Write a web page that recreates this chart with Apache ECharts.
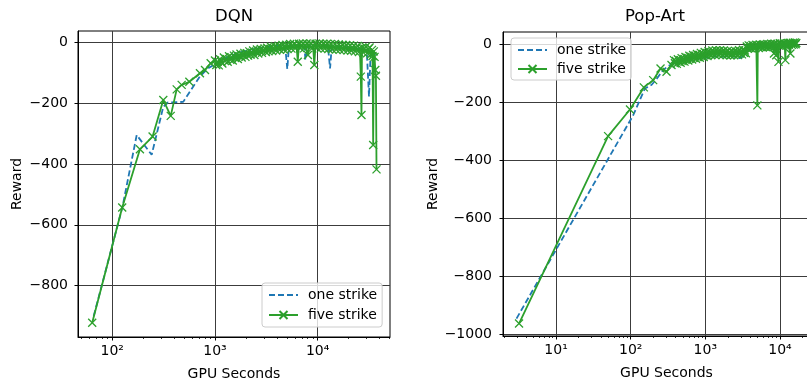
<!DOCTYPE html>
<html><head><meta charset="utf-8">
<script src="https://cdn.jsdelivr.net/npm/echarts@6/dist/echarts.min.js"></script>
<style>html,body{margin:0;padding:0;background:#fff}#c{width:807px;height:380px}</style>
</head><body><div id="c"></div>
<script>
// ---------------- DATA ----------------
const seriesNames = ['one strike', 'five strike'];
const titles = ['DQN', 'Pop-Art'];

// DQN, one strike (blue dashed) : [GPU seconds, reward]
const dqnOne = [[66,-900],[126,-540],[173,-305],[242,-370],[314,-212],[348,-198],[491,-196],[714,-112],[860,-85],
  [1000,-72],[1090,-64],[1190,-57],[1300,-50],[1420,-46],[1550,-40],[1690,-36],[1850,-31],[2020,-28],[2200,-24],
  [2400,-22],[2620,-19],[2860,-17],[3120,-15],[3400,-14],[3710,-13],[4050,-12],[4420,-11],[4820,-11],[5060,-88],
  [5260,-10],[5740,-10],[6260,-9],[6830,-9],[7450,-9],[7580,-58],[8130,-9],[8870,-9],[9680,-10],[10560,-10],
  [11520,-11],[12570,-11],[13200,-86],[13720,-12],[14970,-13],[16330,-14],[17820,-15],[19440,-16],[21210,-18],
  [23140,-20],[25250,-22],[27550,-24],[30060,-27],[31600,-179],[32800,-30],[34500,-33],[35800,-36],[36800,-40]];

// DQN, five strike (green, x markers)
const dqnFive = [[63.8,-922],[125,-543],[186,-352],[247,-310],[314,-190],[371,-242],[424,-155],[474,-140],
  [563,-130],[714,-102],[800,-91],[908,-69],
  [1000,-60],[1030,-75],[1060,-64],[1090,-76],[1120,-56],[1150,-64],[1180,-70],[1220,-50],[1250,-62],[1290,-55],
  [1330,-64],[1370,-46],[1410,-58],[1450,-49],[1490,-60],[1530,-44],[1580,-52],[1620,-40],[1670,-55],[1720,-46],
  [1770,-38],[1820,-50],[1870,-42],[1930,-35],[1980,-48],[2040,-36],[2100,-44],[2160,-30],[2220,-41],[2290,-34],
  [2350,-27],[2420,-42],[2490,-31],[2560,-24],[2640,-37],[2710,-28],[2790,-22],[2870,-35],[2960,-26],[3040,-20],
  [3130,-32],[3220,-18],[3320,-30],[3410,-22],[3510,-15],[3610,-29],[3720,-19],[3830,-13],[3940,-27],[4050,-17],
  [4170,-11],[4290,-25],[4410,-15],[4540,-9],[4670,-24],[4810,-13],[4950,-8],[5090,-22],[5240,-12],[5390,-6],
  [5550,-21],[5710,-11],[5870,-5],[6040,-20],[6220,-10],[6400,-64],[6580,-5],[6770,-19],[6970,-9],[7170,-4],
  [7380,-20],[7590,-10],[7810,-4],[8040,-42],[8270,-9],[8510,-4],[8760,-21],[9010,-9],[9270,-75],[9540,-5],
  [9820,-19],[10100,-9],[10400,-4],[10700,-20],[11000,-10],[11300,-5],[11700,-21],[12000,-10],[12300,-5],
  [12700,-22],[13100,-11],[13400,-6],[13800,-23],[14200,-12],[14700,-6],[15100,-24],[15500,-13],[16000,-7],
  [16400,-25],[16900,-14],[17400,-8],[17900,-26],[18400,-15],[18900,-9],[19500,-27],[20000,-16],[20600,-10],
  [21200,-28],[21800,-17],[22500,-11],[23100,-30],[23800,-18],[24500,-12],[25200,-32],[25750,-20],[26300,-113],
  [26700,-239],[27000,-18],[27800,-34],[28600,-21],[29400,-15],[30300,-36],[31100,-22],[32000,-17],[32900,-40],
  [33800,-25],[34200,-45],[34700,-338],[35200,-30],[35800,-48],[36400,-91],[36900,-110],[37400,-418]];

// Pop-Art, one strike (blue dashed)
const popOne = [[2.95,-946],[108,-245],[155,-153],[191,-140],[230,-115],[270,-90],[320,-75],[380,-66],[450,-58],
  [530,-54],[620,-52],[730,-50],[850,-49],[1000,-47],[1200,-45],[1400,-42],[1650,-44],[1900,-42],[2200,-40],
  [2600,-45],[2900,-48],[3300,-40],[3600,-25],[3900,-12],[4300,-10],[5000,-8],[6000,-6],[7000,-5],[8500,-4],
  [10000,-3],[12000,-2],[14000,-1],[16500,0]];

// Pop-Art, five strike (green, x markers)
const popFive = [[3.19,-963],[49.8,-317],[97.8,-225],[150,-149],[200,-124],[251,-84],[302,-95],[352,-72],
  [380,-55],[391,-66],[403,-58],[415,-68],[428,-52],[440,-61],[454,-55],[467,-64],[481,-48],[496,-58],[511,-51],
  [526,-60],[542,-44],[558,-54],[575,-47],[592,-56],[610,-40],[628,-50],[647,-43],[666,-53],[686,-37],[707,-47],
  [728,-40],[750,-50],[772,-34],[796,-44],[820,-37],[844,-47],[870,-30],[896,-41],[922,-34],[950,-44],[979,-27],
  [1010,-38],[1040,-30],[1070,-41],[1100,-24],[1130,-35],[1170,-28],[1200,-38],[1240,-22],[1280,-33],[1310,-26],
  [1350,-37],[1390,-21],[1440,-32],[1480,-25],[1520,-36],[1570,-21],[1620,-31],[1660,-26],[1710,-37],[1770,-22],
  [1820,-33],[1870,-27],[1930,-38],[1990,-23],[2050,-34],[2110,-28],[2170,-39],[2240,-24],[2300,-35],[2370,-27],
  [2440,-38],[2520,-23],[2590,-33],[2670,-26],[2750,-37],[2830,-21],[2920,-32],[3010,-25],[3100,-35],[3190,-19],
  [3290,-30],[3380,-22],[3490,-31],[3590,-8],[3700,-16],[3810,-4],[3920,-13],[4040,-6],[4160,-15],[4290,-3],
  [4410,-12],[4550,-5],[4680,-14],[4820,-2],[4980,-211],[5050,-4],[5200,-13],[5360,-1],[5520,-10],[5690,-3],
  [5860,-12],[6030,0],[6210,-9],[6400,-2],[6590,-11],[6790,1],[6990,-8],[7200,-1],[7420,-10],[7640,2],[7870,-7],
  [8100,0],[8300,-32],[8470,2],[8720,-6],[8920,-38],[9190,1],[9550,-61],[9750,-5],[10000,3],[10300,-4],[10600,2],
  [10900,-5],[11300,4],[11600,-3],[11800,-55],[12000,2],[12400,-4],[12800,4],[13100,-2],[13500,5],[13800,-32],
  [14000,3],[14400,-2],[14900,5],[15300,-1],[15800,6],[16200,0],[16560,4]];

// Axis ticks and labels
const dqnXTicks = [100, 1000, 10000];
const dqnXMinor = [50, 60, 70, 80, 90, 200, 300, 400, 500, 600, 700, 800, 900,
  2000, 3000, 4000, 5000, 6000, 7000, 8000, 9000, 20000, 30000, 40000, 50000];
const dqnYTicks = [-800, -600, -400, -200, 0];
const popXTicks = [10, 100, 1000, 10000];
const popXMinor = [2, 3, 4, 5, 6, 7, 8, 9, 20, 30, 40, 50, 60, 70, 80, 90, 200, 300, 400, 500, 600, 700, 800, 900,
  2000, 3000, 4000, 5000, 6000, 7000, 8000, 9000, 20000, 30000, 40000];
const popYTicks = [-1000, -800, -600, -400, -200, 0];
const xAxisTitle = 'GPU Seconds';
const yAxisTitle = 'Reward';

// ---------------- CHART ----------------
const FONT = 'DejaVu Sans';
const FS = 14;
const BLUE = '#1f77b4', GREEN = '#2ca02c';
const X_SYMBOL = 'path://M0,0L10,10M10,0L0,10';
const SUP = {1: '\u00b9', 2: '\u00b2', 3: '\u00b3', 4: '\u2074'};
const xLabel = v => '10' + SUP[Math.round(Math.log10(v))];
const yLabel = v => (v < 0 ? '\u2212' + Math.abs(v) : String(v));
const txt = (size) => ({fontFamily: FONT, fontSize: size, color: '#000'});

function mainX(grid, min, max, ticks) {
  return {
    type: 'log', logBase: 10, gridIndex: grid, min: min, max: max,
    axisLine: {show: true, onZero: false, lineStyle: {color: '#000', width: 1}},
    axisTick: {show: true, customValues: ticks, length: 3.5, inside: false, lineStyle: {color: '#000', width: 1}},
    axisLabel: Object.assign({customValues: ticks, formatter: xLabel, margin: 7}, txt(FS)),
    splitLine: {show: true, lineStyle: {color: '#3c3c3c', width: 1}},
    minorTick: {show: false}, minorSplitLine: {show: false},
    name: xAxisTitle, nameLocation: 'middle', nameGap: 30, nameTextStyle: txt(FS)
  };
}
function minorX(grid, min, max, ticks) {
  return {
    type: 'log', logBase: 10, gridIndex: grid, min: min, max: max, position: 'bottom',
    axisLine: {show: false, onZero: false},
    axisTick: {show: true, customValues: ticks, length: 2, inside: false, lineStyle: {color: '#000', width: 0.8}},
    axisLabel: {show: false}, splitLine: {show: false}
  };
}
function mainY(grid, min, max, ticks, gap, margin) {
  return {
    type: 'value', gridIndex: grid, min: min, max: max,
    axisLine: {show: true, onZero: false, lineStyle: {color: '#000', width: 1}},
    axisTick: {show: true, customValues: ticks, length: 3.5, inside: false, lineStyle: {color: '#000', width: 1}},
    axisLabel: Object.assign({customValues: ticks, formatter: yLabel, margin: margin}, txt(FS)),
    splitLine: {show: true, lineStyle: {color: '#3c3c3c', width: 1}},
    name: yAxisTitle, nameLocation: 'middle', nameGap: gap, nameRotate: 90, nameTextStyle: txt(FS)
  };
}
function oneSeries(xi, yi, data) {
  return {name: seriesNames[0], type: 'line', xAxisIndex: xi, yAxisIndex: yi, data: data,
    symbol: 'none', showSymbol: false, lineStyle: {color: BLUE, width: 1.8, type: [6, 3]},
    itemStyle: {color: BLUE}, animation: false, z: 2};
}
function fiveSeries(xi, yi, data) {
  return {name: seriesNames[1], type: 'line', xAxisIndex: xi, yAxisIndex: yi, data: data,
    symbol: X_SYMBOL, symbolSize: 8, showSymbol: true, showAllSymbol: true,
    lineStyle: {color: GREEN, width: 1.8},
    itemStyle: {color: GREEN, borderColor: GREEN, borderWidth: 1.3}, animation: false, z: 3};
}
function legendAt(left, top, gap, pad) {
  return {orient: 'vertical', left: left, top: top, itemWidth: 29, itemHeight: 10, itemGap: gap,
    padding: pad, backgroundColor: 'rgba(255,255,255,0.8)', borderColor: '#cccccc', borderWidth: 1,
    borderRadius: 3, selectedMode: false, textStyle: Object.assign({padding: [0, 0, 0, 5]}, txt(FS)),
    data: [{name: seriesNames[0], itemStyle: {opacity: 0}}, {name: seriesNames[1]}]};
}

const chart = echarts.init(document.getElementById('c'), null, {renderer: 'canvas'});
chart.setOption({
  animation: false,
  backgroundColor: '#fff',
  title: [
    {text: titles[0], left: 215, top: 8, padding: 0, textStyle: Object.assign({fontWeight: 'normal'}, txt(16.5))},
    {text: titles[1], left: 625, top: 8, padding: 0, textStyle: Object.assign({fontWeight: 'normal'}, txt(16.5))}
  ],
  grid: [
    {left: 78, right: 417, top: 31, bottom: 43, show: true, borderColor: '#000', borderWidth: 1,
      containLabel: false, outerBoundsMode: 'none'},
    {left: 503, right: -23, top: 32, bottom: 44, show: true, borderColor: '#000', borderWidth: 1,
      containLabel: false, outerBoundsMode: 'none'}
  ],
  xAxis: [
    mainX(0, 46.4, 50600, dqnXTicks),
    minorX(0, 46.4, 50600, dqnXMinor),
    mainX(1, 1.945, 46830, popXTicks),
    minorX(1, 1.945, 46830, popXMinor)
  ],
  yAxis: [
    mainY(0, -969, 37, dqnYTicks, 54, 10),
    mainY(1, -1006, 42, popYTicks, 61, 11)
  ],
  legend: [legendAt(262, 283, 6, [5, 5, 5, 6]), legendAt(511, 38, 5, [5, 5, 4, 6])],
  series: [
    oneSeries(0, 0, dqnOne),
    fiveSeries(0, 0, dqnFive),
    oneSeries(2, 1, popOne),
    fiveSeries(2, 1, popFive)
  ]
});
</script>
</body></html>
